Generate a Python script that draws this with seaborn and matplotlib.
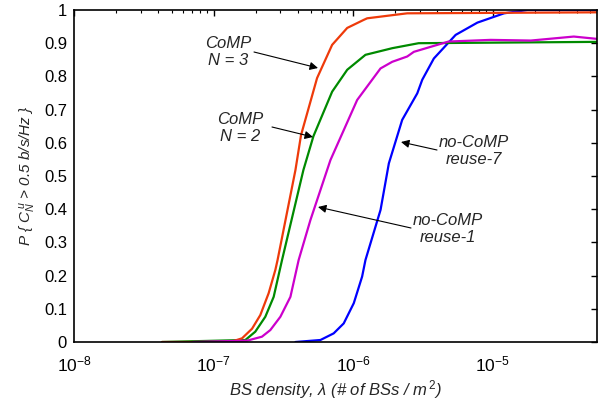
import numpy as np
import pandas as pd
import matplotlib
matplotlib.use("Agg")
import matplotlib.pyplot as plt
import seaborn as sns
from matplotlib.ticker import LogLocator, NullFormatter

sns.set_theme(style="white")
plt.rcParams['font.family'] = ['Liberation Sans', 'DejaVu Sans']
plt.rcParams['mathtext.fontset'] = 'custom'
plt.rcParams['mathtext.rm'] = 'Liberation Sans'
plt.rcParams['mathtext.it'] = 'Liberation Sans:italic'
plt.rcParams['mathtext.bf'] = 'Liberation Sans:bold'

# ---- data ----
comp3_lam = [4.27e-8, 1.318e-7, 1.600e-7, 1.888e-7, 2.163e-7, 2.483e-7, 2.773e-7, 2.877e-7,
             3.864e-7, 4.236e-7, 5.521e-7, 7.079e-7, 9.08e-7, 1.189e-6, 1.262e-6, 2.443e-6, 5.6e-5]
comp3_p = [0.0, 0.0, 0.011, 0.04, 0.081, 0.147, 0.217, 0.247,
           0.518, 0.623, 0.795, 0.895, 0.946, 0.970, 0.975, 0.990, 0.993]

comp2_lam = [4.27e-8, 1.690e-7, 1.991e-7, 2.350e-7, 2.698e-7, 3.097e-7, 4.406e-7, 5.200e-7,
             7.08e-7, 9.08e-7, 1.227e-6, 1.91e-6, 2.95e-6, 5.6e-5]
comp2_p = [0.0, 0.006, 0.031, 0.076, 0.136, 0.247, 0.518, 0.620,
           0.754, 0.820, 0.865, 0.885, 0.900, 0.904]

reuse1_lam = [7.14e-8, 1.738e-7, 2.223e-7, 2.553e-7, 3.013e-7, 3.556e-7, 4.074e-7, 4.944e-7,
              6.884e-7, 1.070e-6, 1.573e-6, 1.909e-6, 2.445e-6, 2.727e-6, 3.593e-6,
              4.839e-6, 9.68e-6, 1.879e-5, 3.819e-5, 5.6e-5]
reuse1_p = [0.0, 0.004, 0.016, 0.036, 0.076, 0.136, 0.247, 0.367,
            0.548, 0.729, 0.824, 0.844, 0.860, 0.874, 0.889,
            0.905, 0.910, 0.908, 0.920, 0.913]

reuse7_lam = [3.864e-7, 5.834e-7, 7.261e-7, 8.57e-7, 1.012e-6, 1.161e-6, 1.227e-6, 1.574e-6,
              1.805e-6, 2.249e-6, 2.885e-6, 3.133e-6, 3.793e-6, 5.433e-6, 7.78e-6, 1.208e-5,
              1.778e-5, 5.6e-5]
reuse7_p = [0.0, 0.006, 0.026, 0.056, 0.117, 0.197, 0.247, 0.398,
            0.538, 0.669, 0.749, 0.790, 0.854, 0.925, 0.962, 0.990, 1.0, 1.0]

series_names = ["CoMP N=3", "CoMP N=2", "no-CoMP reuse-1", "no-CoMP reuse-7"]
series_colors = ["#EE3A0A", "#008A00", "#CC00CC", "#0000FF"]

frames = []
for name, lam, p in zip(series_names,
                        [comp3_lam, comp2_lam, reuse1_lam, reuse7_lam],
                        [comp3_p, comp2_p, reuse1_p, reuse7_p]):
    frames.append(pd.DataFrame({"lam": lam, "p": p, "series": name}))
df = pd.concat(frames, ignore_index=True)

fig = plt.figure(figsize=(6.03, 4.08), dpi=100)
ax = fig.add_axes([74/603, 66/408, 523/603, 332/408])

order_draw = ["no-CoMP reuse-7", "CoMP N=2", "CoMP N=3", "no-CoMP reuse-1"]
pal = dict(zip(series_names, series_colors))
for name in order_draw:
    sns.lineplot(data=df[df.series == name], x="lam", y="p", color=pal[name],
                 linewidth=1.6, ax=ax, legend=False, estimator=None, sort=False)

ax.set_xscale("log")
ax.set_xlim(1e-8, 5.6e-5)
ax.set_ylim(0, 1)
ax.set_yticks(np.arange(0, 1.01, 0.1))
ax.set_yticklabels(["0", "0.1", "0.2", "0.3", "0.4", "0.5", "0.6", "0.7", "0.8", "0.9", "1"])
ax.xaxis.set_major_locator(LogLocator(base=10, numticks=10))
ax.xaxis.set_minor_locator(LogLocator(base=10, subs=np.arange(2, 10), numticks=20))
ax.xaxis.set_minor_formatter(NullFormatter())

ax.tick_params(axis="both", which="both", direction="in", top=True, right=True,
               colors="black", labelsize=12)
ax.tick_params(axis="both", which="major", length=4, width=1)
ax.tick_params(axis="x", which="minor", length=2.5, width=0.8)
ax.tick_params(axis="x", which="major", pad=9, labelsize=12.5)
ax.tick_params(axis="y", which="major", pad=5)
for s in ax.spines.values():
    s.set_color("black")
    s.set_linewidth(1.2)

ax.set_xlabel(r"BS density, $\lambda$ (# of BSs / m$^{\,2}$)", fontsize=12,
              fontstyle="italic", labelpad=3)
ax.set_ylabel(r"P { $C_N^{\,u}$ > 0.5 b/s/Hz }", fontsize=11, fontstyle="italic", labelpad=4)

arrow = dict(arrowstyle="-|>", color="black", lw=0.8, mutation_scale=12, shrinkA=0, shrinkB=0)

def px2fig(x, y):
    return fig.transFigure.inverted().transform((x, 408 - y))

def annot(text, tx, ty, ax_x, ax_y, ex, ey):
    ax.annotate("", xy=px2fig(ex, ey), xycoords="figure fraction",
                xytext=px2fig(ax_x, ax_y), textcoords="figure fraction",
                arrowprops=arrow)
    fig.text(*px2fig(tx, ty), text, ha="center", va="center", fontsize=12,
             fontstyle="italic", linespacing=1.1)

annot("CoMP\nN = 3", 228, 52, 254, 52, 318, 68)
annot("CoMP\nN = 2", 240, 128, 272, 127, 313, 137)
annot("no-CoMP\nreuse-7", 474, 151, 437, 150, 401, 142)
annot("no-CoMP\nreuse-1", 448, 229, 411, 228, 318, 207)

fig.savefig("out.png", dpi=100, facecolor="white")
